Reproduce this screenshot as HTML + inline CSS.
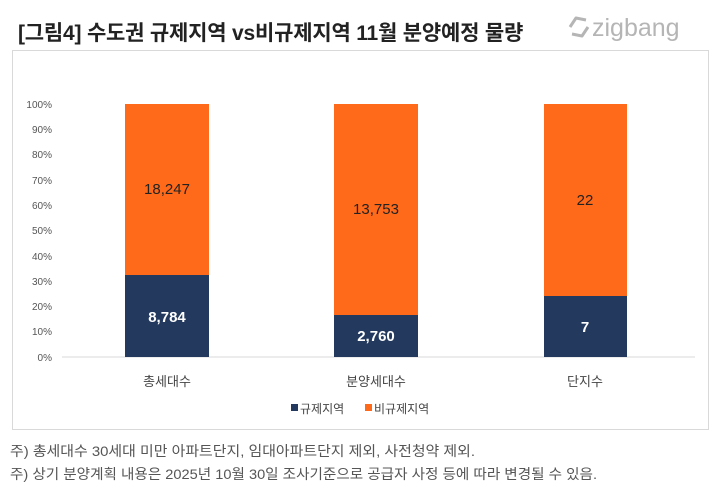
<!DOCTYPE html>
<html><head><meta charset="utf-8"><style>
body{margin:0;width:718px;height:497px;background:#fff;font-family:"Liberation Sans","Noto Sans CJK KR",sans-serif;position:relative;overflow:hidden}
.t{position:absolute;white-space:nowrap}
</style></head><body>
<div class="t" style="left:18px;top:17px;font-size:21px;font-weight:bold;color:#222;letter-spacing:-0.2px">[그림4] 수도권 규제지역 vs비규제지역 11월 분양예정 물량</div>
<div class="t" style="left:566px;top:14px;font-size:25px;color:#b5b5b5">
<svg width="26" height="24" viewBox="0 0 26 24" style="vertical-align:-3px"><path d="M4 12 L10 3 L20 5 M22 12 L16 21 L6 19" fill="none" stroke="#b5b5b5" stroke-width="3" stroke-linejoin="round"/></svg>zigbang</div>
<div style="position:absolute;left:12px;top:50px;width:695px;height:378px;border:1px solid #d9d9d9"></div>
<svg style="position:absolute;left:0;top:0" width="718" height="497" font-family="Liberation Sans, Noto Sans CJK KR, sans-serif">
<g font-size="10" fill="#555" text-anchor="end">
<text x="52" y="108">100%</text><text x="52" y="133">90%</text><text x="52" y="158">80%</text><text x="52" y="184">70%</text><text x="52" y="209">60%</text><text x="52" y="234">50%</text><text x="52" y="260">40%</text><text x="52" y="285">30%</text><text x="52" y="310">20%</text><text x="52" y="335">10%</text><text x="52" y="361">0%</text>
</g>
<line x1="62" y1="357" x2="695" y2="357" stroke="#d9d9d9"/>
<rect x="125" y="104" width="84" height="171" fill="#ff6a1a"/><rect x="125" y="275" width="84" height="82" fill="#233a5e"/>
<rect x="334" y="104" width="84" height="211" fill="#ff6a1a"/><rect x="334" y="315" width="84" height="42" fill="#233a5e"/>
<rect x="544" y="104" width="83" height="192" fill="#ff6a1a"/><rect x="544" y="296" width="83" height="61" fill="#233a5e"/>
<g font-size="15" text-anchor="middle">
<text x="167" y="194" fill="#222">18,247</text><text x="167" y="322" fill="#fff" font-weight="bold">8,784</text>
<text x="376" y="214" fill="#222">13,753</text><text x="376" y="341" fill="#fff" font-weight="bold">2,760</text>
<text x="585" y="205" fill="#222">22</text><text x="585" y="332" fill="#fff" font-weight="bold">7</text>
</g>
<g font-size="13" fill="#444" text-anchor="middle">
<text x="167" y="386">총세대수</text><text x="376" y="386">분양세대수</text><text x="585" y="386">단지수</text>
</g>
<rect x="291" y="404" width="7" height="7" fill="#233a5e"/><text x="300" y="413" font-size="12" fill="#444">규제지역</text>
<rect x="365" y="404" width="7" height="7" fill="#ff6a1a"/><text x="374" y="413" font-size="12" fill="#444">비규제지역</text>
<g font-size="14" fill="#555">
<text x="10" y="456" textLength="465" lengthAdjust="spacingAndGlyphs">주) 총세대수 30세대 미만 아파트단지, 임대아파트단지 제외, 사전청약 제외.</text>
<text x="10" y="479" textLength="587" lengthAdjust="spacingAndGlyphs">주) 상기 분양계획 내용은 2025년 10월 30일 조사기준으로 공급자 사정 등에 따라 변경될 수 있음.</text>
</g>
</svg>
</body></html>
